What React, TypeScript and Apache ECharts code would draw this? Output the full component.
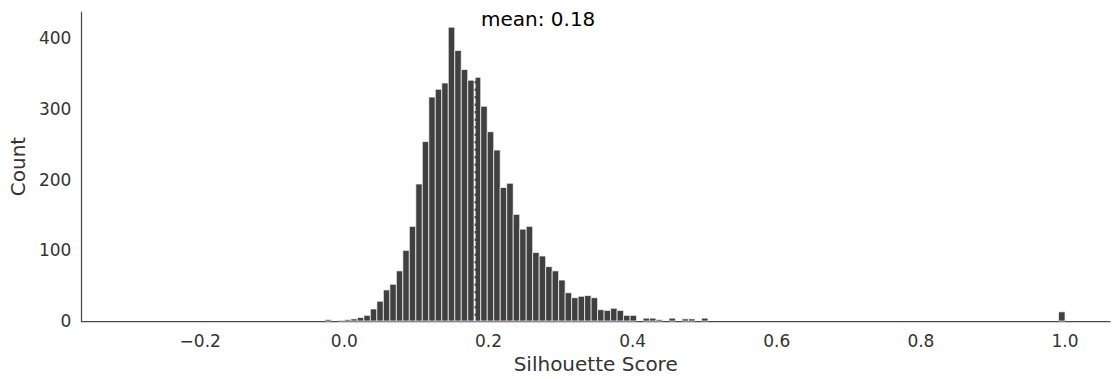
import React, { useEffect, useRef } from "react";
import * as echarts from "echarts";

// Histogram of silhouette scores (regular bins)
const binStart = -0.027;
const binWidth = 0.009009;
const counts: number[] = [
  2, 0, 1, 2, 3, 5, 8, 17, 28, 44,
  52, 71, 100, 134, 194, 254, 317, 328, 337, 416,
  383, 356, 341, 345, 304, 268, 242, 189, 195, 151,
  130, 134, 97, 92, 77, 71, 58, 40, 33, 35,
  36, 33, 16, 15, 18, 15, 8, 8, 0, 4,
  4, 2, 0, 4, 0, 3, 3, 0, 4, 0,
  0, 0, 0, 0, 0, 0, 0, 0, 0, 0,
  0, 0, 0, 0, 0, 0, 0, 0, 0, 0,
  0, 0, 0, 0, 0, 0, 0, 0, 0, 0,
  0, 0, 0, 0, 0, 0, 0, 0, 0, 0,
  0, 0, 0, 0, 0, 0, 0, 0, 0, 0,
  0, 0, 0, 13,
];
const meanScore = 0.181;
const xTicks = [-0.2, 0, 0.2, 0.4, 0.6, 0.8, 1.0];
const yTicks = [0, 100, 200, 300, 400];
const xMin = -0.365;
const xMax = 1.0624;
const yMax = 437.5;

const FONT = "DejaVu Sans";
const TEXT = "#333333";

export default function App() {
  const ref = useRef<HTMLDivElement>(null);
  useEffect(() => {
    if (!ref.current) return;
    const chart = echarts.init(ref.current, undefined, { renderer: "svg" });
    const bins = counts
      .map((c, i) => [binStart + i * binWidth, binStart + (i + 1) * binWidth, c])
      .filter((d) => d[2] > 0);
    chart.setOption({
      animation: false,
      grid: { left: 80, right: 2, top: 12, bottom: 57 },
      xAxis: {
        type: "value",
        min: xMin,
        max: xMax,
        splitLine: { show: false },
        axisTick: { show: false },
        axisLine: { show: true, onZero: false, lineStyle: { color: "#4a4a4a", width: 1.25 } },
        axisLabel: {
          customValues: xTicks,
          formatter: (v: number) => (v < 0 ? "\u2212" : "") + Math.abs(v).toFixed(1),
          color: TEXT,
          fontSize: 17,
          fontFamily: FONT,
          margin: 11,
        },
        name: "Silhouette Score",
        nameLocation: "middle",
        nameGap: 33,
        nameTextStyle: { fontSize: 20, color: TEXT, fontFamily: FONT },
      },
      yAxis: {
        type: "value",
        min: 0,
        max: yMax,
        splitLine: { show: false },
        axisTick: { show: false },
        axisLine: { show: true, onZero: false, lineStyle: { color: "#4a4a4a", width: 1.25 } },
        axisLabel: {
          customValues: yTicks,
          color: TEXT,
          fontSize: 17,
          fontFamily: FONT,
          margin: 10,
        },
        name: "Count",
        nameLocation: "middle",
        nameGap: 52,
        nameTextStyle: { fontSize: 20, color: TEXT, fontFamily: FONT },
      },
      graphic: [
        {
          type: "text",
          left: 481,
          top: 9,
          style: {
            text: "mean: " + meanScore.toFixed(2),
            fontSize: 20,
            fontFamily: FONT,
            fill: "#000",
          },
        },
      ],
      series: [
        {
          type: "custom",
          data: bins,
          encode: { x: [0, 1], y: 2 },
          renderItem: (params: any, api: any) => {
            const p0 = api.coord([api.value(0), api.value(2)]);
            const p1 = api.coord([api.value(1), 0]);
            return {
              type: "rect",
              shape: { x: p0[0], y: p0[1], width: p1[0] - p0[0], height: p1[1] - p0[1] },
              style: { fill: "#404040", stroke: "#ffffff", lineWidth: 0.7 },
            };
          },
        },
        {
          type: "line",
          data: [
            [meanScore, 0],
            [meanScore, yMax],
          ],
          symbol: "none",
          silent: true,
          lineStyle: { color: "#ffffff", width: 1.5, type: [5, 2.5] },
        },
      ],
    });
    return () => chart.dispose();
  }, []);
  return (
    <div
      ref={ref}
      style={{ position: "absolute", left: 0, top: 0, width: 1112, height: 379, background: "#fff" }}
    />
  );
}
